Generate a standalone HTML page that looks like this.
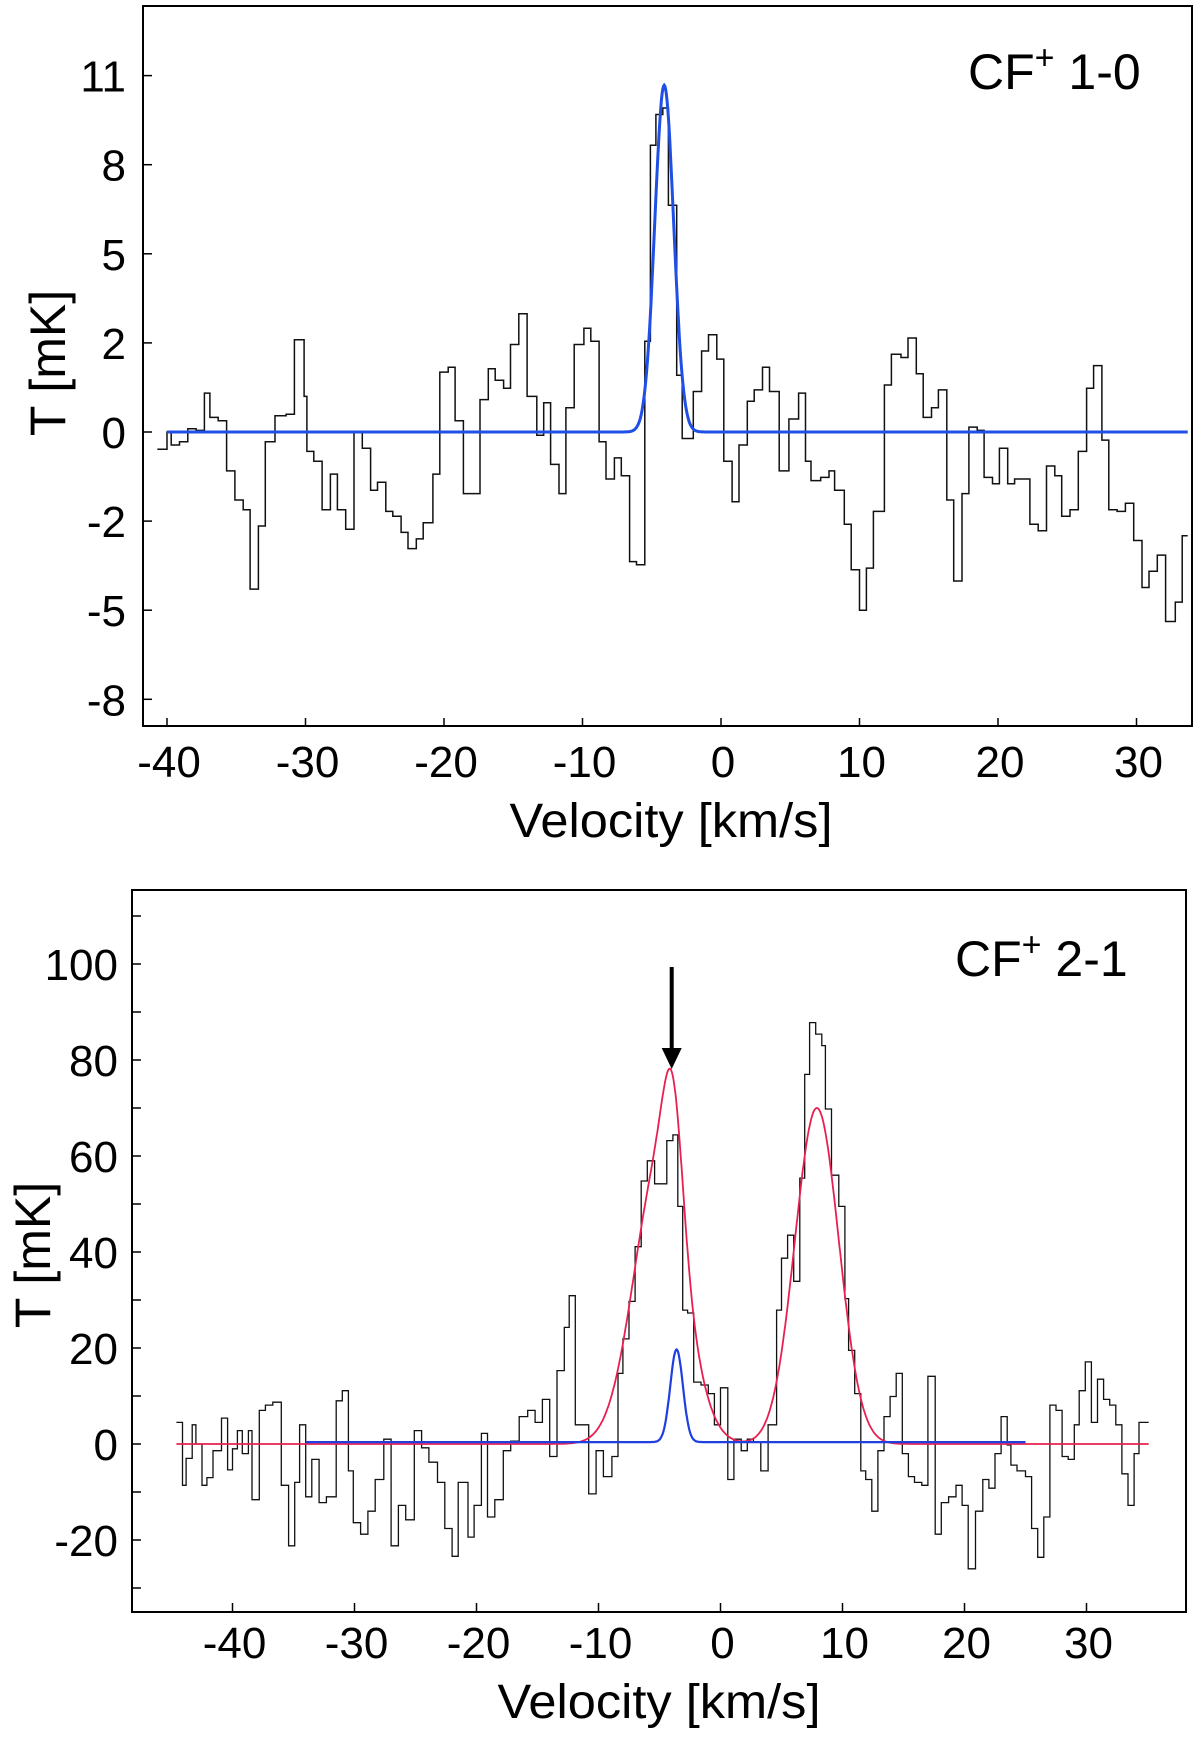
<!DOCTYPE html>
<html><head><meta charset="utf-8"><style>
html,body{margin:0;padding:0;background:#fff;}
svg{display:block;font-family:"Liberation Sans",Arial,sans-serif;}
</style></head><body>
<svg id="chart" width="1200" height="1751" viewBox="0 0 1200 1751" xmlns="http://www.w3.org/2000/svg">
<g id="top"></g>
<g id="bot"></g>
</svg>
<script>
// ---------- Top panel data (CF+ 1-0) ----------
const topEdges = [-40.7,-40.0,-39.7,-39.1,-38.5,-37.9,-37.3,-36.9,-36.3,-35.7,-35.1,-34.5,-34.0,-33.4,-32.9,-32.2,-31.4,-30.8,-30.1,-29.9,-29.4,-28.8,-28.2,-27.7,-27.1,-26.5,-25.9,-25.3,-24.8,-24.2,-23.7,-23.1,-22.6,-22.0,-21.5,-20.8,-20.3,-19.7,-19.2,-18.6,-18.0,-17.4,-16.8,-16.3,-15.7,-15.2,-14.6,-14.0,-13.3,-12.8,-12.3,-11.7,-11.2,-10.6,-9.9,-9.4,-8.8,-8.3,-7.7,-7.2,-6.6,-6.1,-5.5,-5.1,-4.7,-4.2,-3.8,-3.2,-2.8,-2.5,-2.0,-1.4,-0.9,-0.3,0.2,0.8,1.3,1.9,2.4,3.0,3.5,4.2,4.9,5.6,6.1,6.5,7.2,7.8,8.2,8.9,9.4,10.0,10.5,11.0,11.8,12.3,13.0,13.5,14.1,14.6,15.2,15.7,16.3,16.8,17.4,17.9,18.5,19.0,19.6,20.1,20.7,21.2,22.3,22.9,23.5,24.1,24.6,25.2,25.8,26.4,26.9,27.5,28.0,28.6,29.2,29.8,30.4,30.9,31.5,32.1,32.8,33.3,33.7];
const topTemps = [-0.53,0,-0.4,-0.3,0.1,0.05,1.2,0.45,0.35,-1.2,-2.1,-2.4,-4.85,-2.9,-0.3,0.5,0.55,2.85,1.1,-0.6,-0.9,-2.4,-1.3,-2.4,-3.0,0,-0.5,-1.8,-1.55,-2.45,-2.6,-3.1,-3.6,-3.3,-2.8,-1.3,1.85,2.0,0.35,-1.9,-1.9,1.0,1.95,1.6,1.35,2.7,3.65,1.1,-0.1,0.9,-1.0,-1.9,0.75,2.7,3.2,2.8,-0.3,-1.45,-0.8,-1.35,-4.0,-4.1,2.8,8.85,9.8,10.0,7.0,1.75,-0.2,-0.2,1.25,2.5,3.0,2.25,-0.9,-2.15,-0.4,0.95,1.3,2.0,1.25,-1.2,0.4,1.2,-0.9,-1.5,-1.4,-1.2,-1.8,-2.85,-4.25,-5.5,-4.2,-2.45,1.45,2.4,2.3,2.9,1.8,0.45,0.75,1.3,-2.1,-4.6,-1.9,0.15,0.05,-1.4,-1.6,-0.5,-1.6,-1.45,-2.85,-3.05,-1.05,-1.35,-2.6,-2.4,-0.6,1.35,2.05,-0.25,-2.4,-2.45,-2.2,-3.35,-4.8,-4.3,-3.8,-5.85,-5.25,-3.2];
const topFit = {amp:10.7, center:-4.1, sigma:0.68};
const topXTicks = [-40,-30,-20,-10,0,10,20,30];
const topYTickVals = [11,8.25,5.5,2.75,0,-2.75,-5.5,-8.25];
const topYTickLabels = ["11","8","5","2","0","-2","-5","-8"];

// ---------- Bottom panel data (CF+ 2-1) ----------
const botEdges = [-44.6,-44.1,-43.8,-43.3,-43.0,-42.5,-42.1,-41.6,-40.9,-40.4,-40.0,-39.6,-39.2,-38.7,-38.4,-37.8,-37.3,-36.7,-36.0,-35.4,-34.9,-34.5,-34.0,-33.5,-32.9,-32.3,-31.5,-31.0,-30.5,-30.1,-29.5,-28.9,-28.3,-27.6,-27.0,-26.4,-25.8,-25.1,-24.5,-23.9,-23.2,-22.6,-22.0,-21.5,-20.7,-20.2,-19.6,-19.1,-18.5,-17.8,-17.2,-16.5,-15.8,-15.2,-14.6,-14.0,-13.4,-12.8,-12.4,-11.9,-11.4,-10.8,-10.2,-9.6,-8.9,-8.4,-8.0,-7.5,-7.0,-6.5,-6.0,-5.4,-4.8,-4.4,-3.9,-3.5,-3.1,-2.7,-2.2,-1.6,-1.0,-0.5,0.0,0.6,1.1,1.7,2.2,2.7,3.3,3.9,4.6,5.0,5.5,6.0,6.5,6.9,7.3,7.8,8.3,8.6,9.1,9.7,10.2,10.5,11.0,11.5,11.9,12.4,12.9,13.4,13.9,14.4,14.9,15.4,15.9,16.5,17.0,17.6,18.1,18.7,19.3,19.8,20.3,20.9,21.5,22.0,22.5,23.0,23.5,23.8,24.3,25.0,25.5,26.0,26.5,27.0,27.5,28.0,28.5,29.0,29.4,29.9,30.4,30.9,31.4,31.9,32.4,32.9,33.4,33.9,34.3,34.6,35.1];
const botTemps = [4.5,-8.6,-3,4,0,-8.6,-7,-1.4,5.4,-5.4,-1,2.8,-2,2.8,-11.6,7,8.1,8.7,-8.6,-21.2,-8,4,-11,-3.2,-12.2,-11,9,11.1,-5.6,-16.4,-18.8,-14,-7.4,1,-21.2,-12.8,-15.8,2.8,-0.8,-3.8,-8,-17.6,-23.4,-8,-19.4,-12.8,2.2,-15.2,-11.6,-1.4,0.6,5.7,7,4.5,9.3,-2.6,15.3,24.3,30.9,4,4,-10.4,-1.4,-6.8,-2.6,14.7,21.9,29.7,41.1,54.8,59,54.2,54.2,63.2,64.4,49.5,27.9,27.3,12.9,12.3,10.5,4,11.7,-7.4,1,-1.4,1,0.4,-5.6,4,27.9,38.7,43.5,33.9,55.4,77,87.8,85.4,83,69.8,56,49.5,30.3,19.5,10.5,-5.6,-7.4,-14,-1.4,5.7,9.9,14.7,-2,-6.8,-8,-8.6,14.1,-18.8,-12.2,-11,-8.6,-12.8,-26,-14,-7.4,-9.2,-2,5.7,-0.2,-4.4,-5.6,-6.8,-17.6,-23.6,-15.2,8.1,7,-2.6,-3.2,4,11.1,17.1,4.5,13.5,9.3,8.1,4,-6.2,-12.8,-2,4.5,4.5];
const redAmps = [58,26,70];
const redCenters = [-5.0,-3.9,7.9];
const redSigmas = [2.1,0.8,1.8];
const blueFit = {amp:19.3, center:-3.6, sigma:0.52, base:0.4};
const botXTicks = [-40,-30,-20,-10,0,10,20,30];
const botYMajor = [100,80,60,40,20,0,-20];
const botYMinor = [110,90,70,50,30,10,-10,-30];

const NS = "http://www.w3.org/2000/svg";
function mk(parent, tag, attrs){ const e=document.createElementNS(NS,tag); for(const k in attrs) e.setAttribute(k,attrs[k]); parent.appendChild(e); return e; }
function txt(parent,x,y,s,size,anchor,extra){ const t=mk(parent,'text',Object.assign({x:x,y:y,'font-size':size,'text-anchor':anchor||'middle',fill:'#000'},extra||{})); t.textContent=s; return t; }
function stepPath(edges, temps, X, Y){
  let d='M'+X(edges[0]).toFixed(1)+','+Y(temps[0]).toFixed(1);
  for(let i=0;i<temps.length;i++){
    const yv=Y(temps[i]).toFixed(1);
    if(i>0) d+=' L'+X(edges[i]).toFixed(1)+','+yv;
    d+=' L'+X(edges[i+1]).toFixed(1)+','+yv;
  }
  return d;
}
function curvePath(v0,v1,f,X,Y){ let d=''; for(let v=v0; v<=v1+1e-9; v+=0.05){ d+=(d?' L':'M')+X(v).toFixed(1)+','+Y(f(v)).toFixed(1);} return d; }
const gauss=(a,c,s,v)=>a*Math.exp(-(v-c)*(v-c)/(2*s*s));

// ---------- Top panel ----------
(function(){
  const g=document.getElementById('top');
  const L=143,R=1192,T=6,B=726;
  const X=v=>721+v*13.85;
  const Y=t=>432-t*32.4;
  const clip=mk(g,'clipPath',{id:'clipTop'}); mk(clip,'rect',{x:L,y:T,width:R-L,height:B-T});
  let p=mk(g,'path',{d:stepPath(topEdges,topTemps,X,Y),fill:'none',stroke:'#111',"stroke-width":1.5,'clip-path':'url(#clipTop)'});
   
  p=mk(g,'path',{d:curvePath(-40.0,33.7,v=>gauss(topFit.amp,topFit.center,topFit.sigma,v),X,Y),fill:'none',stroke:'#1f4fe6',"stroke-width":3});
   
  const f=mk(g,'rect',{x:L,y:T,width:R-L,height:B-T,fill:'none',stroke:'#000',"stroke-width":2});
   
  topXTicks.forEach(v=>{ mk(g,'line',{x1:X(v),x2:X(v),y1:B,y2:B-8,stroke:'#000','stroke-width':1.5});
    const t=txt(g,X(v)+2,777,String(v),44);   });
  topYTickVals.forEach((v,i)=>{ mk(g,'line',{x1:L,x2:L+9,y1:Y(v),y2:Y(v),stroke:'#000','stroke-width':1.5});
    const t=txt(g,126,Y(v)+16,topYTickLabels[i],44,'end');   });
  let t=txt(g,671,837,'Velocity [km/s]',48,'middle',{textLength:323,lengthAdjust:'spacingAndGlyphs'});
   
  t=txt(g,0,0,'T [mK]',50,'middle',{transform:'translate(65,363) rotate(-90)'});
   
  t=mk(g,'text',{x:968,y:89,'font-size':50,fill:'#000'}); t.innerHTML='CF<tspan font-size="34" dy="-20">+</tspan><tspan dy="20"> 1-0</tspan>';
   
})();

// ---------- Bottom panel ----------
(function(){
  const g=document.getElementById('bot');
  const L=132,R=1186,T=890,B=1612;
  const X=v=>720.5+v*12.2;
  const Y=t=>1444-t*4.8;
  let p=mk(g,'path',{d:stepPath(botEdges,botTemps,X,Y),fill:'none',stroke:'#111',"stroke-width":1.3});
   
  const redF=v=>{let s=0; for(let i=0;i<redAmps.length;i++) s+=gauss(redAmps[i],redCenters[i],redSigmas[i],v); return s;};
  p=mk(g,'path',{d:curvePath(-44.6,35.1,redF,X,Y),fill:'none',stroke:'#e8204f',"stroke-width":1.8});
   
  p=mk(g,'path',{d:curvePath(-34.0,25.0,v=>blueFit.base+gauss(blueFit.amp,blueFit.center,blueFit.sigma,v),X,Y),fill:'none',stroke:'#1f3fe0',"stroke-width":2.2});
   
  const f=mk(g,'rect',{x:L,y:T,width:R-L,height:B-T,fill:'none',stroke:'#000',"stroke-width":2});
   
  botXTicks.forEach(v=>{ mk(g,'line',{x1:X(v),x2:X(v),y1:B,y2:B-9,stroke:'#000','stroke-width':1.5});
    const t=txt(g,X(v)+2,1658,String(v),44);   });
  botYMajor.forEach(v=>{ mk(g,'line',{x1:L,x2:L+9,y1:Y(v),y2:Y(v),stroke:'#000','stroke-width':1.5});
    const t=txt(g,118,Y(v)+16,String(v),44,'end');   });
  botYMinor.forEach(v=>{ mk(g,'line',{x1:L,x2:L+9,y1:Y(v),y2:Y(v),stroke:'#000','stroke-width':1.5}); });
  const ax=X(-4.0);
  let a=mk(g,'line',{x1:ax,x2:ax,y1:967,y2:1050,stroke:'#000','stroke-width':4});
   
  mk(g,'polygon',{points:(ax-10)+',1048 '+(ax+10)+',1048 '+ax+',1069',fill:'#000'});
  let t=txt(g,659,1718,'Velocity [km/s]',48,'middle',{textLength:323,lengthAdjust:'spacingAndGlyphs'});
   
  t=txt(g,0,0,'T [mK]',50,'middle',{transform:'translate(50,1255) rotate(-90)'});
   
  t=mk(g,'text',{x:955,y:976,'font-size':50,fill:'#000'}); t.innerHTML='CF<tspan font-size="34" dy="-20">+</tspan><tspan dy="20"> 2-1</tspan>';
   
})();
</script>
</body></html>
